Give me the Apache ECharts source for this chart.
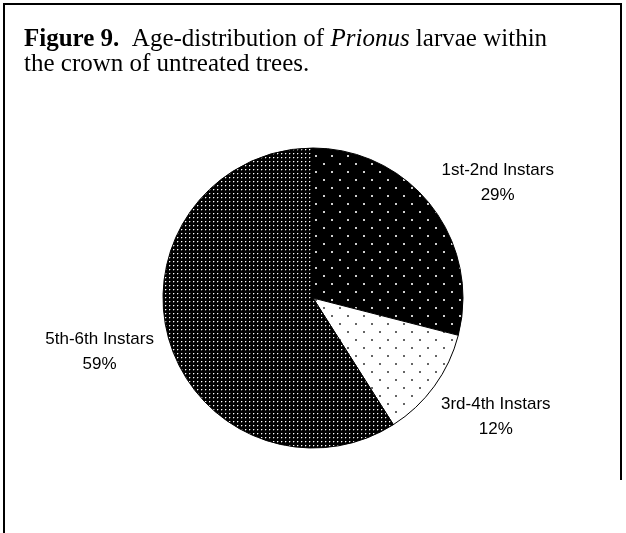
<!DOCTYPE html>
<html>
<head>
<meta charset="utf-8">
<script src="https://cdn.jsdelivr.net/npm/echarts@6/dist/echarts.min.js"></script>
<style>
  html, body { margin: 0; padding: 0; background: #fff; }
  #chart { width: 626px; height: 533px; }
</style>
</head>
<body>
<div id="chart"></div>
<script>
// data
var categories = ['1st-2nd Instars', '3rd-4th Instars', '5th-6th Instars'];
var shares = [29, 12, 59];

// dotted fill tiles, like the old excel patterns
function dotTile(size, bg, pts) {
  var c = document.createElement('canvas');
  c.width = size; c.height = size;
  var ctx = c.getContext('2d');
  ctx.fillStyle = bg;
  ctx.fillRect(0, 0, size, size);
  pts.forEach(function (p) {
    ctx.fillStyle = p[4];
    ctx.fillRect(p[0], p[1], p[2], p[3]);
  });
  return c;
}

var sparseDark = dotTile(16, '#000', [[3, 3, 2, 2, '#cfcfcf'], [11, 11, 2, 2, '#cfcfcf']]);
var sparseLight = dotTile(16, '#fff', [[3, 3, 2, 2, '#666'], [11, 11, 2, 2, '#666']]);
var denseDark = dotTile(4, '#000', [
  [2, 1, 1, 1, '#505050'], [1, 2, 1, 1, '#505050'], [1, 1, 1, 1, '#ffffff']
]);
var fills = [sparseDark, sparseLight, denseDark];

var chart = echarts.init(document.getElementById('chart'));

chart.setOption({
  backgroundColor: '#fff',
  animation: false,
  title: {
    text: '{b|Figure 9.}  Age-distribution of {i|Prionus} larvae within\nthe crown of untreated trees.',
    left: 24,
    top: 27,
    padding: 0,
    textStyle: {
      fontFamily: 'Liberation Serif',
      fontSize: 25,
      fontWeight: 'normal',
      lineHeight: 25,
      color: '#000',
      rich: {
        b: { fontFamily: 'Liberation Serif', fontSize: 25, fontWeight: 'bold', lineHeight: 25, color: '#000' },
        i: { fontFamily: 'Liberation Serif', fontSize: 25, fontStyle: 'italic', lineHeight: 25, color: '#000' }
      }
    }
  },
  graphic: [
    {
      type: 'polyline',
      shape: { points: [[4, 540], [4, 4], [621, 4], [621, 480]] },
      style: { stroke: '#000', lineWidth: 2, fill: null },
      silent: true
    }
  ],
  series: [
    {
      type: 'pie',
      center: [313, 298],
      radius: 150,
      startAngle: 90,
      clockwise: true,
      data: categories.map(function (name, i) {
        return {
          name: name,
          value: shares[i],
          itemStyle: { color: { image: fills[i], repeat: 'repeat' } }
        };
      }),
      itemStyle: { borderColor: '#000', borderWidth: 1 },
      emphasis: { disabled: true },
      label: {
        show: true,
        position: 'outside',
        overflow: 'none',
        formatter: function (p) { return p.name + '\n' + p.value + '%'; },
        fontFamily: 'Liberation Sans',
        fontSize: 17,
        lineHeight: 25,
        color: '#000'
      },
      labelLine: { show: false, length: 66, length2: 0 },
      labelLayout: function (params) {
        var pts = params.labelLinePoints;
        var end = pts[pts.length - 1];
        var nudge = [[14, 17], [8, -8], [-6, -6]][params.dataIndex];
        return {
          x: end[0] + nudge[0],
          y: end[1] + nudge[1],
          align: 'center',
          verticalAlign: 'middle'
        };
      }
    }
  ]
});
</script>
</body>
</html>
